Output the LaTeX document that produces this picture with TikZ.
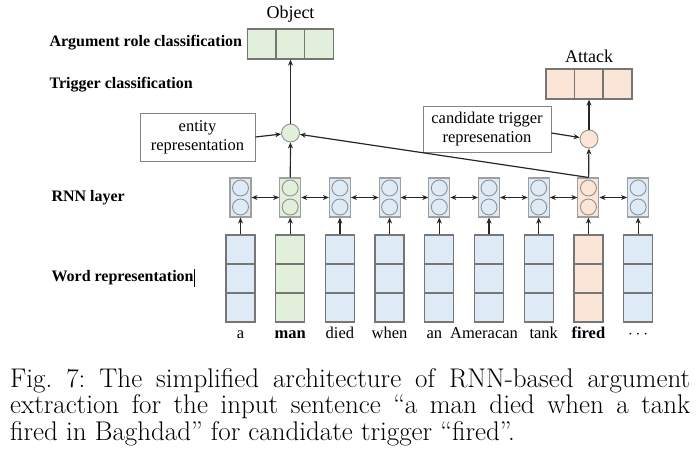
\documentclass[tikz,border=0pt]{standalone}
\usepackage{fontspec}
\newfontfamily\tnr{Liberation Serif}
\usetikzlibrary{arrows.meta}
\definecolor{cblue}{RGB}{222,235,247}
\definecolor{cgreen}{RGB}{226,239,218}
\definecolor{corange}{RGB}{251,229,214}
\definecolor{cgray}{RGB}{118,118,118}
\tikzset{ cell/.style = { rectangle % word or output cell
        , draw = cgray
        , line width = 1.3pt
        , minimum width = 29pt
        , minimum height = 29pt
        , inner sep = 0pt
        }
        , rnn/.style = { rectangle % rnn unit
        , draw = cgray!70
        , line width = 1.1pt
        , minimum width = 21pt
        , minimum height = 39pt
        , inner sep = 0pt
        }
        , unit/.style = { circle % hidden state
        , draw = cgray!80
        , line width = 0.9pt
        , minimum size = 16pt
        , inner sep = 0pt
        }
        , lab/.style = { anchor = west % layer label
        , font = \tnr\bfseries\fontsize{16}{18}\selectfont
        }
        , txt/.style = { font = \tnr\fontsize{16.5}{19}\selectfont
        , align = center
        }
        , repbox/.style = { rectangle % representation box
        , draw = cgray!90
        , line width = 0.9pt
        , txt
        }
        , captxt/.style = { anchor = base west % caption line
        , inner sep = 0pt
        , font = \frenchspacing\fontsize{27}{28}\selectfont
        }
        }

\begin{document}
\begin{tikzpicture}[x=1pt, y=-1pt, >={Stealth[length=6pt,width=5pt]},
        link/.style={draw=black!85, line width=1.2pt, ->},
        both/.style={draw=black!85, line width=1.2pt, <->}]
        \useasboundingbox (0,0) rectangle (700,464);

        % layer labels
        \node [lab] (lab_arg) at (46,43) {Argument role classification};
        \node [lab] (lab_trg) at (46,85) {Trigger classification};
        \node [lab] (lab_rnn) at (48,198) {RNN layer};
        \node [lab] (lab_word) at (48,278) {Word representation};
        \draw [line width=0.6pt] ([xshift=-2.5pt,yshift=-9pt]lab_word.east) -- ([xshift=-2.5pt,yshift=9pt]lab_word.east);

        % words and rnn units
        \foreach \i/\w/\c/\dx in {0/a/cblue/0, 1/\textbf{man}/cgreen/0, 2/died/cblue/0, 3/when/cblue/0, 4/an/cblue/-5,
                5/Ameracan/cblue/-5, 6/tank/cblue/5, 7/\textbf{fired}/corange/0, 8/\textbf{$\cdots$}/cblue/0}{
            \pgfmathsetmacro\x{240.5+49.7*\i}
            \node [cell, fill=\c] (w\i-1) at (\x,249.5) {};
            \node [cell, fill=\c] (w\i-2) at (\x,278.5) {};
            \node [cell, fill=\c] (w\i-3) at (\x,307.5) {};
            \node [txt] (t\i) at (\x+\dx,335) {\strut\w};
            \node [rnn, fill=\c] (r\i) at (\x,197.5) {};
            \node [unit, fill=\c] (u\i-1) at (\x,188) {};
            \node [unit, fill=\c] (u\i-2) at (\x,207) {};
            \draw [link] (w\i-1) -- (r\i);
        }
        \foreach \i [evaluate=\i as \j using int(\i+1)] in {0,...,7}
            \draw [both] (r\i) -- (r\j);

        % argument role output
        \node [cell, fill=cgreen, minimum height=30pt] (o1) at (262,44) {};
        \node [cell, fill=cgreen, minimum height=30pt] (o2) at (290.5,44) {};
        \node [cell, fill=cgreen, minimum height=30pt] (o3) at (319,44) {};
        \node [txt, font=\tnr\fontsize{18}{20}\selectfont] (obj) at (290.5,14) {Object};
        \node [unit, fill=cgreen, minimum size=18pt] (ent) at (290.5,133) {};
        \node [repbox, minimum width=115pt, minimum height=48pt] (entrep) at (197.5,137) {entity\\representation};

        % trigger output
        \node [cell, fill=corange, minimum height=30pt] (a1) at (560.5,84) {};
        \node [cell, fill=corange, minimum height=30pt] (a2) at (589,84) {};
        \node [cell, fill=corange, minimum height=30pt] (a3) at (617.5,84) {};
        \node [txt, font=\tnr\fontsize{18}{20}\selectfont] (atk) at (589,56) {Attack};
        \node [unit, fill=corange, minimum size=18pt] (trg) at (589,139) {};
        \node [repbox, minimum width=128pt, minimum height=46pt] (trgrep) at (487,129) {candidate trigger\\represenation};

        \draw [link] (ent) -- (o2);
        \draw [link] (r1) -- (ent);
        \draw [link] (entrep.east) -- (ent);
        \draw [link] (r7.north) -- (ent);
        \draw [link] (trg) -- (a2);
        \draw [link] (r7) -- (trg);
        \draw [link] ([yshift=-4pt]trgrep.east) -- (trg);

        % caption
        \node [captxt] (cap1) at (10,387)
            {\makebox[680pt][s]{Fig. 7: The simplified architecture of RNN-based argument}};
        \node [captxt] (cap2) at (10,413.5)
            {\makebox[680pt][s]{extraction for the input sentence ``a man died when a tank}};
        \node [captxt] (cap3) at (10,440)
            {fired in Baghdad'' for candidate trigger ``fired''.};
\end{tikzpicture}
\end{document}
